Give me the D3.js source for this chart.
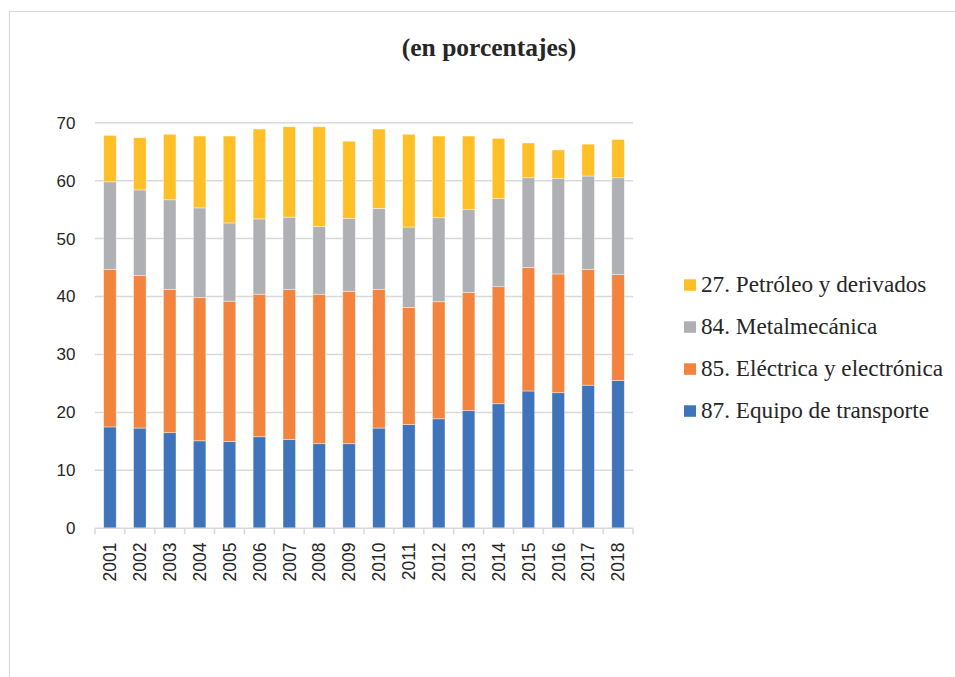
<!DOCTYPE html>
<html>
<head>
<meta charset="utf-8">
<script src="https://cdn.jsdelivr.net/npm/d3@7"></script>
<style>
  html, body { margin: 0; padding: 0; background: #fff; }
  svg { display: block; }
</style>
</head>
<body>
<svg id="chart" width="955" height="677"></svg>
<script>
// Years on the category axis
const years = ["2001","2002","2003","2004","2005","2006","2007","2008","2009",
               "2010","2011","2012","2013","2014","2015","2016","2017","2018"];

// Share of each chapter (percent), stacked bottom to top
const transporte  = [17.5, 17.3, 16.5, 15.1, 15.0, 15.8, 15.3, 14.6, 14.6, 17.3, 17.9, 18.9, 20.3, 21.5, 23.7, 23.4, 24.7, 25.5];
const electrica   = [27.2, 26.3, 24.7, 24.7, 24.2, 24.6, 25.9, 25.8, 26.3, 23.9, 20.2, 20.2, 20.4, 20.2, 21.3, 20.5, 20.0, 18.3];
const metalmec    = [15.1, 14.8, 15.5, 15.5, 13.5, 13.0, 12.5, 11.7, 12.6, 14.0, 13.9, 14.5, 14.3, 15.2, 15.5, 16.5, 16.1, 16.7];
const petroleo    = [ 8.0,  9.0, 11.3, 12.4, 15.0, 15.5, 15.6, 17.2, 13.3, 13.7, 16.0, 14.1, 12.7, 10.4,  6.0,  4.9,  5.5,  6.6];

const seriesNames  = ["87. Equipo de transporte", "85. Eléctrica y electrónica",
                      "84. Metalmecánica", "27. Petróleo y derivados"];
const seriesColors = ["#3F73BA", "#F2843D", "#AFB0B4", "#FEBF27"];
const seriesValues = [transporte, electrica, metalmec, petroleo];

const yTicks = [0, 10, 20, 30, 40, 50, 60, 70];
const titleText = "(en porcentajes)";

const svg = d3.select("#chart");
const gridColor = "#D9D9D9";
const textColor = "#262626";

// Outer frame (top and left edges visible)
svg.append("path")
  .attr("d", "M9.5,677 L9.5,11.5 L955,11.5")
  .attr("fill", "none")
  .attr("stroke", gridColor)
  .attr("stroke-width", 1.2);

// Title
svg.append("text")
  .attr("x", 489)
  .attr("y", 56)
  .attr("text-anchor", "middle")
  .attr("font-family", "'Liberation Serif', 'DejaVu Serif', serif")
  .attr("font-weight", "bold")
  .attr("font-size", 25.5)
  .attr("fill", textColor)
  .text(titleText);

// Plot area
const plot = { left: 95, right: 633, top: 122.7, bottom: 528.3 };

const x = d3.scaleBand()
  .domain(years)
  .range([plot.left, plot.right])
  .paddingInner(0.58)
  .paddingOuter(0.29);

const y = d3.scaleLinear()
  .domain([0, 70])
  .range([plot.bottom, plot.top]);

// Horizontal gridlines
svg.append("g")
  .selectAll("line")
  .data(yTicks.filter(d => d > 0))
  .join("line")
  .attr("x1", plot.left)
  .attr("x2", plot.right)
  .attr("y1", d => y(d))
  .attr("y2", d => y(d))
  .attr("stroke", gridColor)
  .attr("stroke-width", 1.5);

// Y axis labels
const yAxis = d3.axisLeft(y).tickValues(yTicks).tickSize(0).tickPadding(0).tickFormat(d3.format("d"));
const gy = svg.append("g")
  .attr("transform", `translate(${75.5},0)`)
  .call(yAxis);
gy.select(".domain").remove();
gy.selectAll("text")
  .attr("font-family", "'Liberation Sans', Arial, sans-serif")
  .attr("font-size", 17)
  .attr("fill", textColor);

// Stacked data
const table = years.map((yr, i) => {
  const row = { year: yr };
  seriesNames.forEach((n, k) => { row[n] = seriesValues[k][i]; });
  return row;
});
const stacked = d3.stack().keys(seriesNames)(table);

svg.append("g")
  .selectAll("g")
  .data(stacked)
  .join("g")
  .attr("fill", (d, k) => seriesColors[k])
  .selectAll("rect")
  .data(d => d)
  .join("rect")
  .attr("x", d => x(d.data.year))
  .attr("width", x.bandwidth())
  .attr("y", d => y(d[1]))
  .attr("height", d => y(d[0]) - y(d[1]))
  .attr("stroke", "#ffffff")
  .attr("stroke-opacity", 0.55)
  .attr("stroke-width", 0.75);

// Category axis: baseline, boundary ticks and rotated year labels
const gx = svg.append("g");
gx.append("line")
  .attr("x1", plot.left).attr("x2", plot.right)
  .attr("y1", plot.bottom).attr("y2", plot.bottom)
  .attr("stroke", gridColor).attr("stroke-width", 1.5);

const boundaries = d3.range(years.length + 1).map(i => plot.left + i * (plot.right - plot.left) / years.length);
gx.selectAll("line.tick")
  .data(boundaries)
  .join("line")
  .attr("class", "tick")
  .attr("x1", d => d).attr("x2", d => d)
  .attr("y1", plot.bottom).attr("y2", plot.bottom + 6)
  .attr("stroke", gridColor).attr("stroke-width", 1.5);

gx.selectAll("text")
  .data(years)
  .join("text")
  .attr("transform", d => `translate(${x(d) + x.bandwidth() / 2},${542.5}) rotate(-90)`)
  .attr("text-anchor", "end")
  .attr("dy", "0.36em")
  .attr("font-family", "'Liberation Sans', Arial, sans-serif")
  .attr("font-size", 17.5)
  .attr("fill", textColor)
  .text(d => d);

// Legend (top entry is the top of the stack)
const legendOrder = [3, 2, 1, 0];
const legend = svg.append("g");
legendOrder.forEach((k, i) => {
  const by = 292.3 + i * 42;
  legend.append("rect")
    .attr("x", 684).attr("y", by - 13)
    .attr("width", 12).attr("height", 11.5)
    .attr("fill", seriesColors[k]);
  legend.append("text")
    .attr("x", 701).attr("y", by)
    .attr("font-family", "'Liberation Serif', 'DejaVu Serif', serif")
    .attr("font-size", 23.2)
    .attr("fill", textColor)
    .text(seriesNames[k]);
});
</script>
</body>
</html>
